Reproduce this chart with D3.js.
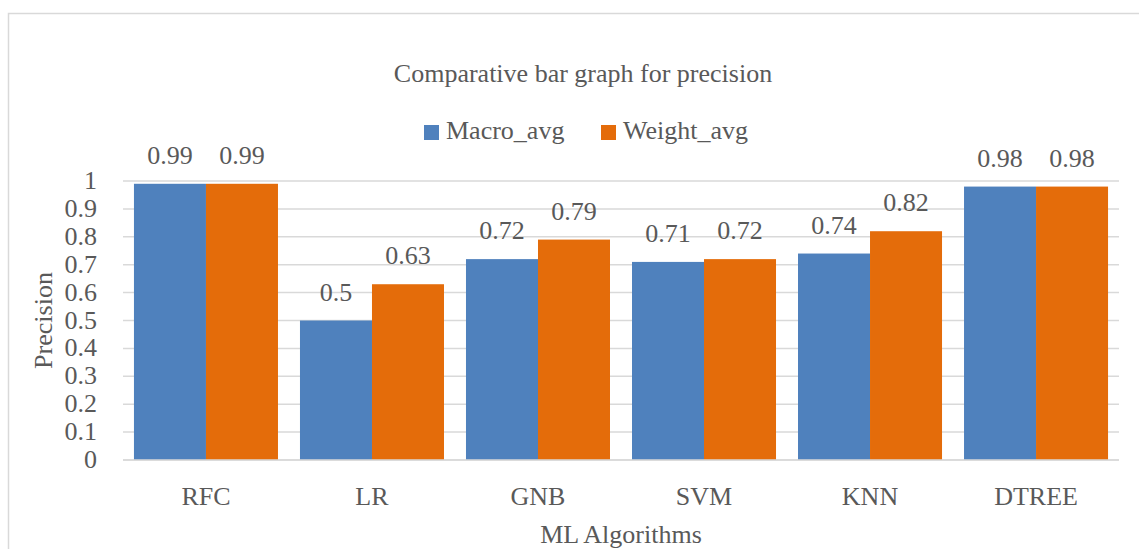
<!DOCTYPE html>
<html>
<head>
<meta charset="utf-8">
<script src="https://cdn.jsdelivr.net/npm/d3@7/dist/d3.min.js"></script>
<style>
  html, body { margin: 0; padding: 0; background: #fff; }
  svg { display: block; }
  text { font-family: "Liberation Serif", "DejaVu Serif", serif; fill: #595959; }
</style>
</head>
<body>
<svg id="chart" width="1139" height="549"></svg>
<script>
// Precision scores per algorithm
const algorithms = ["RFC", "LR", "GNB", "SVM", "KNN", "DTREE"];
const seriesNames = ["Macro_avg", "Weight_avg"];
const macroAvg = [0.99, 0.5, 0.72, 0.71, 0.74, 0.98];
const weightAvg = [0.99, 0.63, 0.79, 0.72, 0.82, 0.98];
const yTicks = [0, 0.1, 0.2, 0.3, 0.4, 0.5, 0.6, 0.7, 0.8, 0.9, 1];
const colors = ["#4f81bd", "#e46c0a"];

const FS = 26;
const svg = d3.select("#chart");
const W = 1139, H = 549;
const plot = { left: 123, right: 1119, top: 181, bottom: 460 };

// chart frame
svg.append("rect")
  .attr("x", 8.5).attr("y", 13.5)
  .attr("width", W + 20).attr("height", H)
  .attr("fill", "#fff").attr("stroke", "#d9d9d9").attr("stroke-width", 1.5);

const x = d3.scaleBand().domain(algorithms)
  .range([plot.left, plot.right]).paddingInner(0.1325).paddingOuter(0.066);
const xs = d3.scaleBand().domain(seriesNames).range([0, x.bandwidth()]);
const y = d3.scaleLinear().domain([0, 1]).range([plot.bottom, plot.top]);

// horizontal gridlines
svg.append("g").selectAll("line").data(yTicks).join("line")
  .attr("x1", plot.left).attr("x2", plot.right)
  .attr("y1", d => y(d)).attr("y2", d => y(d))
  .attr("stroke", "#d9d9d9").attr("stroke-width", 1.5);

// y axis labels
const yAxis = svg.append("g").attr("transform", `translate(${plot.left - 26},0)`)
  .call(d3.axisLeft(y).tickValues(yTicks).tickFormat(d3.format("~g")).tickSize(0).tickPadding(0));
yAxis.select(".domain").remove();
yAxis.selectAll("text").attr("font-size", FS).attr("fill", "#595959")
  .attr("font-family", "Liberation Serif, serif").attr("dy", null).attr("y", 7.5);

// bars
const rows = algorithms.map((a, i) => ({ name: a, values: [macroAvg[i], weightAvg[i]] }));
const groups = svg.append("g").selectAll("g").data(rows).join("g")
  .attr("transform", d => `translate(${x(d.name)},0)`);

groups.selectAll("rect").data(d => d.values.map((v, j) => ({ s: seriesNames[j], v, j })))
  .join("rect")
  .attr("x", d => xs(d.s)).attr("width", xs.bandwidth())
  .attr("y", d => y(d.v)).attr("height", d => y(0) - y(d.v))
  .attr("fill", d => colors[d.j]);

// value labels
groups.selectAll("text.val").data(d => d.values.map((v, j) => ({ s: seriesNames[j], v, j })))
  .join("text").attr("class", "val")
  .attr("x", d => xs(d.s) + xs.bandwidth() / 2)
  .attr("y", d => y(d.v) - 20)
  .attr("text-anchor", "middle").attr("font-size", FS)
  .text(d => d.v);

// x axis baseline
svg.append("line")
  .attr("x1", plot.left).attr("x2", plot.right)
  .attr("y1", y(0)).attr("y2", y(0))
  .attr("stroke", "#d9d9d9").attr("stroke-width", 1.5);

// category labels
svg.append("g").selectAll("text").data(algorithms).join("text")
  .attr("x", d => x(d) + x.bandwidth() / 2).attr("y", 505)
  .attr("text-anchor", "middle").attr("font-size", FS)
  .text(d => d);

// title
svg.append("text").attr("x", 583).attr("y", 82)
  .attr("text-anchor", "middle").attr("font-size", FS)
  .text("Comparative bar graph for precision");

// axis titles
svg.append("text").attr("x", (plot.left + plot.right) / 2).attr("y", 543)
  .attr("text-anchor", "middle").attr("font-size", FS)
  .text("ML Algorithms");
svg.append("text")
  .attr("transform", `translate(52,${(plot.top + plot.bottom) / 2}) rotate(-90)`)
  .attr("text-anchor", "middle").attr("font-size", FS)
  .text("Precision");

// legend
const legendX = [424, 601];
const legend = svg.append("g").selectAll("g").data(seriesNames).join("g")
  .attr("transform", (d, i) => `translate(${legendX[i]},125)`);
legend.append("rect").attr("width", 15).attr("height", 15)
  .attr("fill", (d, i) => colors[i]);
legend.append("text").attr("x", 22).attr("y", 13.5)
  .attr("font-size", FS).text(d => d);
</script>
</body>
</html>
